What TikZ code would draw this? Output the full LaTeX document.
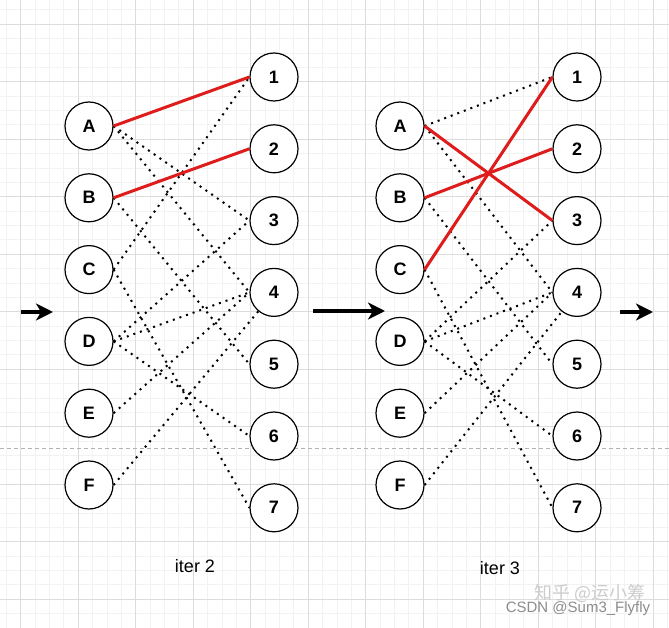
\documentclass[tikz,border=0pt]{standalone}
\usepackage{fontspec}
\setmainfont{Liberation Sans}
\newfontfamily\cjkfont{Noto Sans CJK SC}
\usetikzlibrary{arrows.meta}
\definecolor{gridmajor}{HTML}{DCDCDC}
\definecolor{gridminor}{HTML}{F2F2F2}
\definecolor{matchred}{HTML}{DF1C1C}
\begin{document}
\begin{tikzpicture}[x=1pt,y=-1pt,line join=round,
		vertex/.style={circle,draw,fill=white,line width=1.2pt,minimum size=48pt,inner sep=0pt,font=\fontsize{18}{18}\selectfont\bfseries},
		edge/.style={line width=2pt,dash pattern=on 2pt off 5pt},
		matched/.style={matchred,line width=3pt},
		bigarrow/.style={line width=3.5pt,-{Stealth[length=17pt,width=17pt,inset=5pt]}}]
	\useasboundingbox (0,0) rectangle (669,628);
	\fill[white] (0,0) rectangle (669,628);
	% grid
	\foreach \i in {0,...,46} \draw[gridminor,line width=0.7pt] ({6.3+14.375*\i},0) -- ++(0,628);
	\foreach \i in {0,...,43} \draw[gridminor,line width=0.7pt] (0,{9.8+14.375*\i}) -- ++(669,0);
	\foreach \i in {0,...,11} \draw[gridmajor,line width=0.8pt] ({20.7+57.5*\i},0) -- ++(0,628);
	\foreach \i in {0,...,10} \draw[gridmajor,line width=0.8pt] (0,{24.2+57.5*\i}) -- ++(669,0);
	\draw[gray!60,line width=0.8pt,dash pattern=on 4pt off 3pt] (0,448) -- (669,448);
	% nodes
	\foreach \it/\lx/\rx in {2/89/274,3/400/577}{
		\foreach \n [count=\k] in {A,B,C,D,E,F}
			\node[vertex] (L\it\n) at (\lx,{126+71.8*(\k-1)}) {\n};
		\foreach \k in {1,...,7}
			\node[vertex] (R\it-\k) at (\rx,{77+71.8*(\k-1)}) {\k};
	}
	% iter 2
	\foreach \a/\b in {A/3,A/4,B/5,C/1,C/7,D/3,D/4,D/6,E/4}
		\draw[edge] (L2\a.east) -- (R2-\b.west);
	\draw[edge] (L2F.east) -- (R2-4);
	\draw[matched] (L2A.east) -- (R2-1.west);
	\draw[matched] (L2B.east) -- (R2-2.west);
	% iter 3
	\foreach \a/\b in {A/1,A/4,B/5,C/7,D/3,D/4,D/6,E/4}
		\draw[edge] (L3\a.east) -- (R3-\b.west);
	\draw[edge] (L3F.east) -- (R3-4);
	\draw[matched] (L3A.east) -- (R3-3.west);
	\draw[matched] (L3B.east) -- (R3-2.west);
	\draw[matched] (L3C.east) -- (R3-1.west);
	% arrows
	\coordinate (in1) at (21,312);
	\coordinate (in2) at (53,312);
	\coordinate (mid1) at (313,311);
	\coordinate (mid2) at (385,311);
	\coordinate (out1) at (620,312);
	\coordinate (out2) at (653,312);
	\draw[bigarrow] (in1) -- (in2);
	\draw[bigarrow] (mid1) -- (mid2);
	\draw[bigarrow] (out1) -- (out2);
	% labels
	\node[font=\fontsize{18}{18}\selectfont] (iter2) at (195,566) {iter 2};
	\node[font=\fontsize{18}{18}\selectfont] (iter3) at (500,568) {iter 3};
	\node[text=black!20,font=\cjkfont\fontsize{18}{18}\selectfont] (zhihu) at (590,593) {知乎 @运小筹};
	\node[text=black!45,font=\fontsize{15}{15}\selectfont] (csdn) at (578,609) {CSDN @Sum3\_Flyfly};
\end{tikzpicture}
\end{document}
